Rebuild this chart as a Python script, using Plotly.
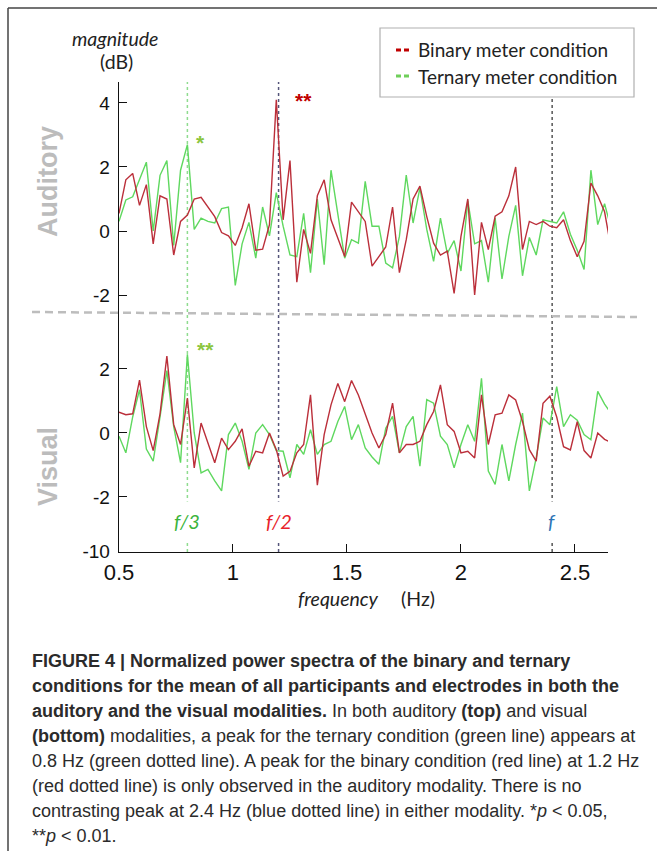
import plotly.graph_objects as go

# ---------------- data ----------------
frequency_hz = [0.50, 0.53, 0.56, 0.59, 0.62, 0.65, 0.68, 0.71, 0.74, 0.77,
                0.80, 0.83, 0.86, 0.89, 0.92, 0.95, 0.98, 1.01, 1.04, 1.07,
                1.10, 1.13, 1.16, 1.19, 1.22, 1.25, 1.28, 1.31, 1.34, 1.37,
                1.40, 1.43, 1.46, 1.49, 1.52, 1.55, 1.58, 1.61, 1.64, 1.67,
                1.70, 1.73, 1.76, 1.79, 1.82, 1.85, 1.88, 1.91, 1.94, 1.97,
                2.00, 2.03, 2.06, 2.09, 2.12, 2.15, 2.18, 2.21, 2.24, 2.27,
                2.30, 2.33, 2.36, 2.39, 2.42, 2.45, 2.48, 2.51, 2.54, 2.57,
                2.60, 2.63, 2.66]

auditory_binary = [0.55, 1.6, 1.8, 0.8, 1.45, -0.4, 1.1, 1.0, -0.75, 0.3, 0.5,
                   1.0, 1.05, 0.75, 0.45, -0.05, -0.15, -0.45, 0.1, 0.85, -0.6,
                   -0.57, 0.2, 4.1, 0.35, 2.2, -1.6, 0.05, -0.7, 1.1, 1.6,
                   0.35, -0.2, -0.8, 0.9, 0.6, 0.3, -1.1, -0.8, -0.5, 0.75,
                   -1.3, -0.27, 1.0, 1.4, 0.45, -0.38, -0.75, -0.63, -1.95, -0.17,
                   1.0, -2.0, 0.27, -0.58, 0.46, 0.6, 1.1, 2.0, -0.58, 0.3,
                   0.2, 0.3, 0.15, 0.1, 0.35, -0.3, -0.8, -0.32, 1.5, 1.1,
                   0.6, -0.6]

auditory_ternary = [0.3, 0.97, 1.07, 1.6, 2.15, 0.0, 1.74, 2.2, -0.45, 1.9, 2.7,
                    0.05, 0.4, 0.3, 0.25, 0.7, 0.75, -1.7, -0.4, 0.27, -0.85,
                    0.75, -0.15, 1.2, 0.15, -0.75, -0.8, 0.55, -1.3, 1.0, -1.05,
                    1.9, 0.5, -0.85, -0.27, -0.38, 1.55, 0.15, 0.15, -1.0, -1.15,
                    -0.17, 1.75, 0.25, 1.35, 0.05, -0.95, 0.4, -0.7, -0.3, -1.25,
                    0.95, -0.4, -0.3, -1.6, 0.4, -1.5, -0.17, 0.8, -1.4, -0.2,
                    -0.75, 0.35, 0.3, 0.25, 0.6, -0.1, -0.6, -1.2, 1.9, 0.2,
                    0.85, 0.05]

visual_binary = [0.65, 0.57, 0.6, 1.65, 0.2, -0.55, 0.6, 2.4, 0.26, -0.36, 1.09,
                 -1.09, 0.31, -0.3, -0.93, -0.16, -0.52, -0.26, 0.13, -1.04, -0.57,
                 -0.62, 0.0, -0.52, -1.35, -1.2, -0.62, -0.36, 1.19, -1.63, -0.05,
                 0.88, 1.55, 0.98, 1.64, 1.19, 0.57, 0.0, -0.47, -0.05, 0.93,
                 -0.62, -0.36, -0.36, -0.26, 0.26, 0.67, 1.5, 0.26, 0.05, -0.62,
                 -0.57, -0.78, 1.19, -0.36, 0.57, 0.62, 1.19, 1.03, 0.36, -0.52,
                 -0.88, 0.93, 1.15, 0.5, -0.43, -0.53, 0.35, -0.55, -0.78, 0.0,
                 -0.2, -0.3]

visual_ternary = [-0.1, -0.62, 0.5, 1.35, -0.5, -0.88, 0.5, 1.95, 0.2, -0.93, 2.46,
                  0.0, -1.25, -1.14, -1.5, -1.81, -0.05, 0.31, -0.26, -1.14, 0.0,
                  0.26, -0.05, -0.55, -0.57, -1.4, -0.36, -0.67, 0.1, -0.67, -0.36,
                  -0.26, 0.36, 0.83, -0.21, 0.26, -0.47, -0.75, -0.98, 0.15, 0.52,
                  -0.62, 0.2, 0.52, -1.04, 1.04, 0.93, -0.1, -0.36, -1.09, -0.36,
                  0.26, -0.26, 1.71, -1.19, -1.61, -0.36, -1.5, -0.36, 0.62, -1.81,
                  -0.78, 0.47, 0.26, 1.45, 0.2, 0.57, 0.4, -0.05, -0.21, 1.3,
                  0.9, 0.6]

x_ticks = [0.5, 1, 1.5, 2, 2.5]
x_tick_text = ["0.5", "1", "1.5", "2", "2.5"]
top_ticks = [-2, 0, 2, 4]
top_tick_text = ["-2", "0", "2", "4"]
bottom_ticks = [-3.71, -2, 0, 2]
bottom_tick_text = ["-10", "-2", "0", "2"]

marker_freqs = [0.8, 1.2, 2.4]
marker_labels = ["<i>f/3</i>", "<i>f/2</i>", "<i>f</i>"]

series_names = ["Binary meter condition", "Ternary meter condition"]

# ---------------- styling ----------------
W, H = 657, 851
L, R, T, B = 119, 608, 82, 552          # plot area in pixels
SPLIT = 313                               # boundary between the two panels
RED = "#bb2f3a"
GREEN = "#5fd85f"
STAR_GREEN = "#8cc63f"
AX_FONT = "Liberation Sans"
CAL_FONT = "Lato"


def px(x):
    return (x - L) / (R - L)


def py(y):
    return (B - y) / (B - T)


split_frac = py(SPLIT)

fig = go.Figure()

for ys, yaxis in ((auditory_ternary, "y"), (visual_ternary, "y2")):
    fig.add_trace(go.Scatter(x=frequency_hz, y=ys, xaxis="x", yaxis=yaxis,
                             mode="lines", line=dict(color=GREEN, width=1.4),
                             name=series_names[1], showlegend=False,
                             hoverinfo="skip"))
for ys, yaxis in ((auditory_binary, "y"), (visual_binary, "y2")):
    fig.add_trace(go.Scatter(x=frequency_hz, y=ys, xaxis="x", yaxis=yaxis,
                             mode="lines", line=dict(color=RED, width=1.4),
                             name=series_names[0], showlegend=False,
                             hoverinfo="skip"))

shapes = []
line_cols = ["#8fdc8f", "#55557a", "#555555"]
for f, c in zip(marker_freqs, line_cols):
    shapes.append(dict(type="line", xref="x", yref="paper", x0=f, x1=f,
                       y0=0, y1=1, layer="below",
                       line=dict(color=c, width=1.5, dash="dot")))

# grey dashed separator between panels
shapes.append(dict(type="line", xref="paper", yref="paper",
                   x0=px(32), x1=px(637), y0=py(312), y1=py(317),
                   line=dict(color="#bdbdbd", width=2.5, dash="8px,5px")))

# figure frame (top and left edges)
shapes.append(dict(type="line", xref="paper", yref="paper",
                   x0=px(8), x1=px(660), y0=py(8), y1=py(8),
                   line=dict(color="#444444", width=1.5)))
shapes.append(dict(type="line", xref="paper", yref="paper",
                   x0=px(8), x1=px(8), y0=py(8), y1=py(855),
                   line=dict(color="#444444", width=1.5)))

# legend box
shapes.append(dict(type="rect", xref="paper", yref="paper",
                   x0=px(380), x1=px(634), y0=py(28), y1=py(97),
                   fillcolor="white", line=dict(color="#b0b0b0", width=1.2),
                   layer="above"))
for yy, col in ((50, "#c00000"), (76, "#6fcf5a")):
    shapes.append(dict(type="line", xref="paper", yref="paper",
                       x0=px(396), x1=px(409), y0=py(yy), y1=py(yy),
                       line=dict(color=col, width=3, dash="5px,3px"),
                       layer="above"))

annotations = []


def text(x, y, s, size, color="#222222", family=CAL_FONT, xanchor="center",
         **kw):
    annotations.append(dict(xref="paper", yref="paper", x=px(x), y=py(y),
                            text=s, showarrow=False, xanchor=xanchor,
                            yanchor="middle",
                            font=dict(size=size, color=color, family=family),
                            **kw))


# legend entries
text(416, 50, series_names[0], 19, xanchor="left")
text(416, 76, series_names[1], 19, xanchor="left")

# axis titles
text(115, 38, "<i>magnitude</i>", 19.5)
text(116, 62, "(dB)", 19.5)
text(338, 598, "<i>frequency</i>", 19.5)
text(418, 598, "(Hz)", 19.5)

# panel labels
annotations.append(dict(xref="paper", yref="paper", x=px(48), y=py(182),
                        text="<b>Auditory</b>", textangle=-90,
                        showarrow=False, xanchor="center", yanchor="middle",
                        font=dict(size=27, color="#bcbcbc",
                                  family="Liberation Sans")))
annotations.append(dict(xref="paper", yref="paper", x=px(48), y=py(467),
                        text="<b>Visual</b>", textangle=-90,
                        showarrow=False, xanchor="center", yanchor="middle",
                        font=dict(size=27, color="#bcbcbc",
                                  family="Liberation Sans")))

# frequency markers
lab_cols = ["#3cb43c", "#e8232b", "#2e75b6"]
for f, lab, c in zip(marker_freqs, marker_labels, lab_cols):
    annotations.append(dict(xref="x", yref="paper", x=f, y=py(521),
                            text=lab, showarrow=False, xanchor="center",
                            yanchor="middle", bgcolor="white", borderpad=7,
                            font=dict(size=20, color=c, family=CAL_FONT)))

# significance stars
annotations.append(dict(xref="x", yref="y", x=0.857, y=2.78, text="<b>*</b>",
                        showarrow=False, font=dict(size=21, color=STAR_GREEN,
                                                   family="Liberation Sans")))
annotations.append(dict(xref="x", yref="y", x=1.31, y=4.08, text="<b>**</b>",
                        showarrow=False, font=dict(size=21, color="#c00000",
                                                   family="Liberation Sans")))
annotations.append(dict(xref="x", yref="y2", x=0.88, y=2.6, text="<b>**</b>",
                        showarrow=False, font=dict(size=21, color=STAR_GREEN,
                                                   family="Liberation Sans")))

# caption
caption_lines = [
    "<b>FIGURE 4 | Normalized power spectra of the binary and ternary</b>",
    "<b>conditions for the mean of all participants and electrodes in both the</b>",
    "<b>auditory and the visual modalities.</b> In both auditory <b>(top)</b> and visual",
    "<b>(bottom)</b> modalities, a peak for the ternary condition (green line) appears at",
    "0.8 Hz (green dotted line). A peak for the binary condition (red line) at 1.2 Hz",
    "(red dotted line) is only observed in the auditory modality. There is no",
    "contrasting peak at 2.4 Hz (blue dotted line) in either modality. *<i>p</i> &lt; 0.05,",
    "**<i>p</i> &lt; 0.01.",
]
for i, line in enumerate(caption_lines):
    text(30, 661 + 25 * i, line, 18, color="#2b2b2b",
         family="Liberation Sans", xanchor="left")

axis_common = dict(showline=True, linecolor="#111111", linewidth=1.3,
                   ticks="inside", ticklen=8, tickcolor="#111111",
                   showgrid=False, zeroline=False,
                   tickfont=dict(size=19, color="#111111", family=AX_FONT))

fig.update_layout(
    width=W, height=H,
    margin=dict(l=L, r=W - R, t=T, b=H - B),
    paper_bgcolor="white", plot_bgcolor="white",
    showlegend=False,
    xaxis=dict(range=[0.5, 2.645], anchor="y2", tickvals=x_ticks,
               ticktext=x_tick_text, ticklabelstandoff=0,
               **{**axis_common,
                  "tickfont": dict(size=22, color="#111111", family=AX_FONT)}),
    yaxis=dict(domain=[split_frac, 1], range=[-2.5625, 4.656], anchor="x",
               tickvals=top_ticks, ticktext=top_tick_text,
               ticklabelstandoff=4, **axis_common),
    yaxis2=dict(domain=[0, split_frac], range=[-3.72, 3.75], anchor="x",
                tickvals=bottom_ticks, ticktext=bottom_tick_text,
                ticklabelstandoff=4, **axis_common),
    shapes=shapes,
    annotations=annotations,
)

fig.write_html("out.html",
               config={"displayModeBar": False, "staticPlot": True},
               post_script="document.body.style.margin='0';"
                           "document.body.style.overflow='hidden';")
